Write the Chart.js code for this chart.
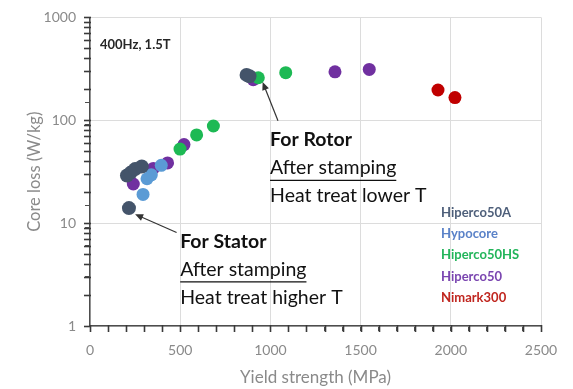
<!DOCTYPE html>
<html>
<head>
<meta charset="utf-8">
<script src="https://cdn.jsdelivr.net/npm/chart.js@4/dist/chart.umd.min.js"></script>
<style>
html,body{margin:0;padding:0;background:#fff;}
#wrap{width:573px;height:389px;position:relative;}
</style>
</head>
<body>
<div id="wrap"><canvas id="c" width="573" height="389"></canvas></div>
<script>
// ---- data ----
const seriesNames = ["Hiperco50A", "Hypocore", "Hiperco50HS", "Hiperco50", "Nimark300"];
const hiperco50A = [[216, 14], [205, 29], [226, 31], [250, 33.5], [287, 35.5], [868, 276], [884, 268]];
const hypocore = [[294, 19], [316, 27], [340, 29.5], [395, 36.5]];
const hiperco50HS = [[499, 52.5], [591, 72], [684, 88], [933, 259], [1085, 290]];
const hiperco50 = [[240, 24], [351, 34], [430, 38.5], [521, 58], [905, 248], [1358, 296], [1548, 312]];
const nimark300 = [[1929, 197], [2023, 166]];
const xTicksMajor = [0, 500, 1000, 1500, 2000, 2500];
const xTicksMinorStep = 100;
const yTicksMajor = [1, 10, 100, 1000];
const yTicksMinorMantissa = [2, 3, 4, 5, 6, 7, 8, 9];

const colors = ["#44546A", "#5B9BD5", "#1DB954", "#7030A0", "#C00000"];
const textColors = ["#4E5F7A", "#5A82C8", "#22B55A", "#7A45B0", "#C0261F"];
const allSeries = [hiperco50A, hypocore, hiperco50HS, hiperco50, nimark300];

const toPts = arr => arr.map(p => ({x: p[0], y: p[1]}));

// annotation anchors in data units
const noteBlocks = [
  {x: 998, y: 64.6, lines: [
    {t: "For Rotor", bold: true},
    {t: "After stamping", underline: true},
    {t: "Heat treat lower T"}]},
  {x: 500, y: 6.65, lines: [
    {t: "For Stator", bold: true},
    {t: "After stamping", underline: true},
    {t: "Heat treat higher T"}]}
];
const arrows = [
  {from: [1042, 99], to: [957, 235]},
  {from: [480, 8.1], to: [250, 12.2]}
];
const conditionLabel = {x: 55, y: 537, t: "400Hz, 1.5T"};
const legendAnchor = {x: 1946, y: 12.7};

const tickMarks = {
  id: 'tickMarks',
  afterDraw(chart) {
    const ctx = chart.ctx, xs = chart.scales.x, ys = chart.scales.y;
    const ca = chart.chartArea;
    ctx.save();
    ctx.strokeStyle = "#3a3a3a";
    ctx.lineWidth = 1.6;
    for (let v = 0; v <= 2500; v += xTicksMinorStep) {
      const px = Math.round(xs.getPixelForValue(v)) + 0.5;
      ctx.beginPath(); ctx.moveTo(px, ca.bottom - 1); ctx.lineTo(px, ca.bottom + 6); ctx.stroke();
    }
    yTicksMajor.forEach(d => {
      const vals = [d].concat(d < 1000 ? yTicksMinorMantissa.map(m => m * d) : []);
      vals.forEach(v => {
        const py = Math.round(ys.getPixelForValue(v)) + 0.5;
        ctx.beginPath(); ctx.moveTo(ca.left - 6, py); ctx.lineTo(ca.left + 1, py); ctx.stroke();
      });
    });
    ctx.restore();
  }
};

const annot = {
  id: 'annot',
  afterDatasetsDraw(chart) {
    const ctx = chart.ctx, xs = chart.scales.x, ys = chart.scales.y;
    ctx.save();
    // condition label
    ctx.font = "bold 13px Lato";
    ctx.fillStyle = "#262626";
    ctx.textBaseline = "middle";
    ctx.textAlign = "left";
    ctx.fillText(conditionLabel.t, xs.getPixelForValue(conditionLabel.x), ys.getPixelForValue(conditionLabel.y));
    // arrows
    ctx.strokeStyle = "#333";
    ctx.fillStyle = "#333";
    ctx.lineWidth = 1.2;
    arrows.forEach(a => {
      const x1 = xs.getPixelForValue(a.from[0]), y1 = ys.getPixelForValue(a.from[1]);
      const x2 = xs.getPixelForValue(a.to[0]), y2 = ys.getPixelForValue(a.to[1]);
      const ang = Math.atan2(y2 - y1, x2 - x1);
      ctx.beginPath(); ctx.moveTo(x1, y1); ctx.lineTo(x2 - 5 * Math.cos(ang), y2 - 5 * Math.sin(ang)); ctx.stroke();
      ctx.beginPath();
      ctx.moveTo(x2, y2);
      ctx.lineTo(x2 - 8 * Math.cos(ang) + 3.5 * Math.sin(ang), y2 - 8 * Math.sin(ang) - 3.5 * Math.cos(ang));
      ctx.lineTo(x2 - 8 * Math.cos(ang) - 3.5 * Math.sin(ang), y2 - 8 * Math.sin(ang) + 3.5 * Math.cos(ang));
      ctx.closePath(); ctx.fill();
    });
    // text blocks
    ctx.fillStyle = "#111";
    noteBlocks.forEach(b => {
      const x0 = xs.getPixelForValue(b.x);
      let y0 = ys.getPixelForValue(b.y);
      b.lines.forEach((ln, i) => {
        ctx.font = (ln.bold ? "bold " : "") + "19.5px Lato";
        const yy = y0 + i * 28;
        ctx.fillText(ln.t, x0, yy);
        if (ln.underline) {
          const w = ctx.measureText(ln.t).width;
          ctx.strokeStyle = "#111"; ctx.lineWidth = 1.3;
          ctx.beginPath(); ctx.moveTo(x0, yy + 12.5); ctx.lineTo(x0 + w, yy + 12.5); ctx.stroke();
        }
      });
    });
    // legend
    const lx = xs.getPixelForValue(legendAnchor.x), ly = ys.getPixelForValue(legendAnchor.y);
    ctx.font = "bold 13px Lato";
    seriesNames.forEach((n, i) => {
      ctx.fillStyle = textColors[i];
      ctx.fillText(n, lx, ly + i * 21.3);
    });
    ctx.restore();
  }
};

const isMajorY = v => Math.abs(Math.log10(v) - Math.round(Math.log10(v))) < 1e-9;

new Chart(document.getElementById('c'), {
  type: 'scatter',
  data: {
    datasets: allSeries.map((s, i) => ({
      label: seriesNames[i],
      data: toPts(s),
      backgroundColor: colors[i],
      borderColor: colors[i],
      borderWidth: 0,
      pointRadius: i === 0 ? 7 : 6.5,
      pointHoverRadius: i === 0 ? 7 : 6.5
    }))
  },
  options: {
    responsive: false,
    animation: false,
    events: [],
    layout: {padding: {left: 0, right: 32, top: 16, bottom: 0}},
    plugins: {legend: {display: false}, tooltip: {enabled: false}},
    scales: {
      x: {
        type: 'linear', min: 0, max: 2500,
        afterFit(s) { s.height = 63; },
        ticks: {
          stepSize: 100, autoSkip: false, maxRotation: 0, padding: 11,
          color: "#8a8a8a", font: {family: "Lato", size: 14},
          callback: v => xTicksMajor.includes(v) ? String(v) : ''
        },
        grid: {
          color: c => (c.tick && xTicksMajor.includes(c.tick.value)) ? "#dcdcdc" : "rgba(0,0,0,0)",
          tickColor: "#4d4d4d", tickLength: 5, lineWidth: 1
        },
        border: {color: "#4d4d4d", width: 1.5},
        title: {display: true, text: "Yield strength (MPa)", color: "#8a8a8a",
          font: {family: "Lato", size: 17}, padding: {top: 0, bottom: 1}}
      },
      y: {
        type: 'logarithmic', min: 1, max: 1000,
        afterFit(s) { s.width = 90; },
        ticks: {
          autoSkip: false, padding: 9,
          color: "#8a8a8a", font: {family: "Lato", size: 14},
          callback: v => yTicksMajor.includes(v) ? String(v) : ''
        },
        grid: {
          color: c => (c.tick && isMajorY(c.tick.value)) ? "#dcdcdc" : "rgba(0,0,0,0)",
          tickColor: "#4d4d4d", tickLength: 5, lineWidth: 1
        },
        border: {color: "#4d4d4d", width: 1.5},
        title: {display: true, text: "Core loss (W/kg)", color: "#8a8a8a",
          font: {family: "Lato", size: 16.5}, padding: {top: 25, bottom: 0}}
      }
    }
  },
  plugins: [annot, tickMarks]
});
</script>
</body>
</html>
